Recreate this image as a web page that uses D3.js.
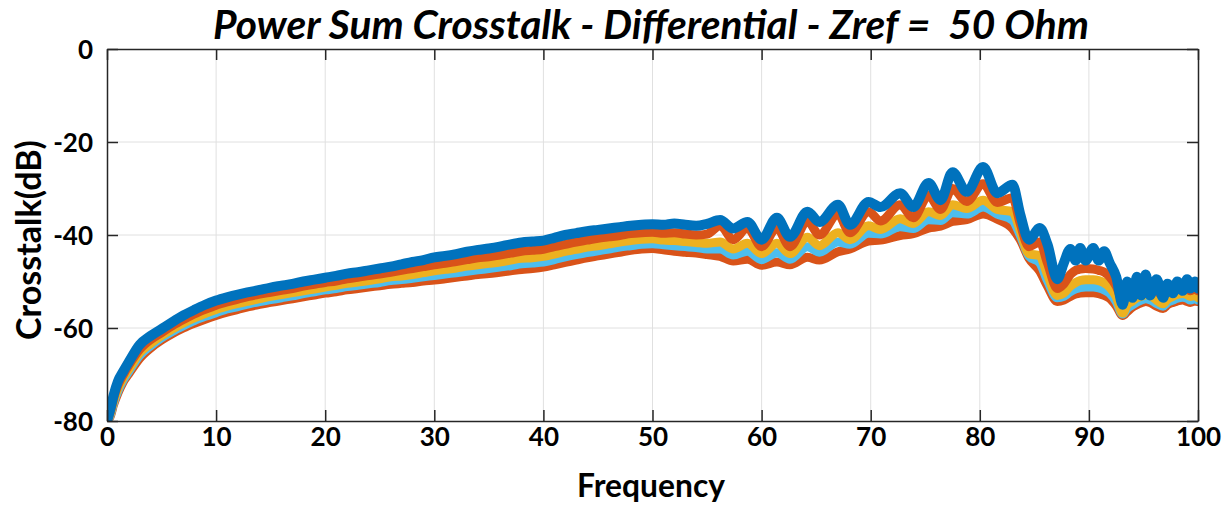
<!DOCTYPE html>
<html><head><meta charset="utf-8">
<script src="https://cdn.jsdelivr.net/npm/d3@7"></script>
<style>
html,body{margin:0;padding:0;background:#fff;}
svg{display:block;}
text{font-family:Lato,"Open Sans",sans-serif;font-weight:bold;fill:#000;}
</style></head>
<body>
<svg id="chart" width="1227" height="507"></svg>
<script>
// ---- data ----
const title = "Power Sum Crosstalk - Differential - Zref = \u00A050 Ohm";
const xLabel = "Frequency";
const yLabel = "Crosstalk(dB)";
const xTicks = [0,10,20,30,40,50,60,70,80,90,100];
const yTicks = [-80,-60,-40,-20,0];

const freq = [0,0.3,0.6,1,1.5,2,3,4,5,6,7,8,9,10,11,12,13,14,15,16,17,18,19,20,21,22,23,24,25,26,27,28,29,30,31,32,33,34,35,36,37,38,39,40,41,42,43,44,45,46,47,48,49,50,51,52,53,54,
 55,56.2,57.4,58.7,60,61.4,62.6,64.2,65.3,67,68.1,69.8,70.9,72.7,73.9,75.3,76.4,77.5,78.8,80.3,81.6,83,83.7,84.5,85.5,86.2,87.1,
 87.7,88.3,88.8,89.2,89.7,90.4,90.9,91.4,91.9,92.5,93.1,93.5,94,94.4,94.8,95.2,95.6,96.2,96.8,97.2,97.7,98.1,98.6,99,99.3,99.7,100];

const seriesBottom = [-80,-79,-76.5,-74,-71.5,-69.8,-66.5,-64.3,-62.6,-61.2,-60.0,-59.0,-58.1,-57.3,-56.6,-56.0,-55.4,-54.9,-54.5,-54.1,-53.7,-53.3,-52.9,-52.5,-52.2,-51.8,-51.5,-51.2,-50.9,-50.6,-50.4,-50.2,-49.9,-49.7,-49.4,-49.1,-48.8,-48.5,-48.3,-48.0,-47.7,-47.4,-47.2,-46.9,-46.4,-45.9,-45.4,-44.9,-44.5,-44.1,-43.7,-43.3,-43.0,-42.9,-43.2,-43.5,-43.7,-43.9,
 -44.2,-44.6,-45.6,-45.2,-46.5,-45.8,-46.4,-44.8,-45.4,-43.6,-43.0,-41.3,-41.1,-40.1,-39.7,-38.5,-38.1,-37.1,-36.7,-35.5,-36.6,-38.6,-41.0,-45.0,-47.8,-51.0,-54.3,
 -54.0,-53.2,-52.7,-52.5,-52.4,-52.4,-52.6,-53.0,-53.6,-55.2,-57.3,-56.5,-55.5,-55.0,-54.6,-54.3,-54.5,-55.3,-55.8,-55.0,-54.5,-54.2,-54.0,-54.3,-54.5,-54.2,-54.3];

const seriesLightBlue = [-80,-78.7,-76.1,-73.5,-71.1,-69.3,-65.9,-63.8,-62.1,-60.7,-59.5,-58.4,-57.5,-56.7,-55.9,-55.4,-54.8,-54.3,-53.9,-53.5,-53.1,-52.6,-52.2,-51.8,-51.5,-51.1,-50.8,-50.5,-50.2,-49.8,-49.6,-49.3,-49.0,-48.7,-48.4,-48.1,-47.8,-47.5,-47.2,-46.9,-46.6,-46.2,-46.0,-45.8,-45.3,-44.7,-44.2,-43.8,-43.4,-43.0,-42.6,-42.3,-42.0,-41.9,-42.1,-42.3,-42.5,-42.7,
 -43.0,-43.0,-44.3,-43.5,-45.3,-43.8,-45.2,-42.5,-43.7,-41.5,-42.0,-39.6,-39.8,-38.2,-38.6,-36.7,-36.9,-35.2,-35.5,-34.0,-35.5,-36.8,-40.0,-44.5,-46.0,-49.8,-53.5,
 -53.2,-52.2,-51.6,-51.3,-51.2,-51.2,-51.4,-51.8,-52.5,-54.3,-57.0,-55.8,-55.0,-54.4,-54.0,-53.7,-53.9,-54.7,-55.3,-54.5,-54.0,-53.6,-53.4,-53.6,-54.0,-53.7,-54.0];

const seriesYellow = [-80,-78.4,-75.7,-73.0,-70.6,-68.8,-65.3,-63.3,-61.6,-60.2,-58.9,-57.8,-56.9,-56.0,-55.3,-54.7,-54.2,-53.7,-53.2,-52.8,-52.4,-52.0,-51.6,-51.2,-50.8,-50.4,-50.1,-49.8,-49.4,-49.0,-48.8,-48.5,-48.1,-47.7,-47.4,-47.1,-46.7,-46.4,-46.1,-45.8,-45.4,-45.0,-44.9,-44.6,-44.1,-43.5,-43.1,-42.6,-42.3,-41.9,-41.5,-41.2,-40.9,-40.8,-41.1,-41.2,-41.4,-41.6,
 -41.8,-41.5,-43.0,-41.8,-44.0,-41.8,-44.0,-40.5,-42.3,-39.5,-41.0,-38.0,-38.8,-36.5,-37.5,-35.0,-35.8,-33.5,-34.3,-32.5,-34.5,-35.0,-39.0,-44.0,-44.5,-48.5,-53.0,
 -52.5,-51.0,-50.2,-49.8,-49.6,-49.6,-49.8,-50.3,-51.2,-53.2,-56.8,-55.0,-54.2,-53.5,-53.2,-52.8,-53.0,-54.0,-54.8,-53.8,-53.2,-52.8,-52.6,-52.8,-53.2,-53.0,-53.5];

const seriesOrange = [-80,-78.0,-75.1,-72.3,-70.0,-68.0,-64.6,-62.5,-61.0,-59.5,-58.2,-57.0,-56.0,-55.1,-54.4,-53.8,-53.2,-52.7,-52.3,-51.9,-51.5,-51.0,-50.6,-50.2,-49.9,-49.4,-49.1,-48.7,-48.4,-48.0,-47.6,-47.2,-46.8,-46.4,-46.1,-45.7,-45.3,-44.9,-44.7,-44.3,-43.9,-43.5,-43.3,-43.1,-42.5,-42.0,-41.5,-41.1,-40.7,-40.4,-40.1,-39.7,-39.5,-39.4,-39.6,-39.5,-39.8,-40.0,
 -39.8,-38.0,-41.0,-38.5,-42.5,-38.5,-42.5,-37.0,-40.0,-35.5,-39.5,-35.0,-37.0,-33.5,-36.3,-31.5,-34.5,-30.0,-32.8,-29.0,-33.0,-32.0,-37.5,-42.5,-41.5,-46.0,-51.5,
 -50.5,-48.5,-47.6,-47.3,-47.2,-47.3,-47.6,-48.0,-49.0,-51.0,-54.0,-53.0,-52.5,-51.5,-51.8,-51.0,-51.5,-52.0,-53.0,-52.0,-51.5,-51.0,-51.5,-51.0,-52.0,-51.5,-52.0];

const seriesBlue = [-80,-77.5,-74.5,-71.5,-69.3,-67.3,-63.6,-61.7,-60.2,-58.7,-57.3,-56.1,-55.0,-54.1,-53.4,-52.8,-52.3,-51.8,-51.3,-50.9,-50.5,-50.0,-49.6,-49.2,-48.8,-48.3,-48.0,-47.6,-47.2,-46.8,-46.3,-45.8,-45.4,-44.8,-44.5,-44.1,-43.6,-43.2,-42.9,-42.5,-42.0,-41.6,-41.4,-41.2,-40.6,-40.0,-39.6,-39.2,-38.9,-38.6,-38.3,-38.0,-37.8,-37.7,-37.8,-37.5,-37.8,-38.0,
 -37.6,-36.8,-38.6,-37.2,-41.0,-36.3,-40.4,-35.0,-37.2,-33.5,-37.8,-32.9,-34.0,-31.0,-34.0,-28.8,-32.5,-26.5,-30.7,-25.4,-31.0,-29.2,-35.5,-41.0,-38.5,-42.0,-49.5,
 -46.0,-43.0,-45.5,-42.8,-45.5,-42.8,-45.5,-43.5,-46.0,-49.0,-55.0,-50.0,-53.5,-49.0,-53.0,-48.5,-53.0,-49.5,-53.5,-50.5,-52.5,-50.0,-52.0,-49.5,-51.5,-50.0,-51.5];

const seriesColors = ["#D95319","#4DBEEE","#EDB120","#D95319","#0072BD"];
const seriesWidths = [9, 9, 9, 9, 10];
const seriesValues = [seriesBottom, seriesLightBlue, seriesYellow, seriesOrange, seriesBlue];

// ---- layout ----
const svg = d3.select("#chart");
const L = 107, R = 1198, T = 49, B = 421;
const x = d3.scaleLinear().domain([0,100]).range([L,R]);
const y = d3.scaleLinear().domain([-80,0]).range([B,T]);

// grid
const grid = svg.append("g");
grid.selectAll(".gx").data(xTicks.slice(1,-1)).enter().append("line")
  .attr("x1",d=>x(d)).attr("x2",d=>x(d)).attr("y1",T).attr("y2",B)
  .attr("stroke","#e0e0e0").attr("stroke-width",1);
grid.selectAll(".gy").data(yTicks.slice(1,-1)).enter().append("line")
  .attr("y1",d=>y(d)).attr("y2",d=>y(d)).attr("x1",L).attr("x2",R)
  .attr("stroke","#e0e0e0").attr("stroke-width",1);

// clip
svg.append("clipPath").attr("id","clip").append("rect")
  .attr("x",L).attr("y",T).attr("width",R-L).attr("height",B-T);

const line = d3.line().x((d,i)=>x(freq[i])).y(d=>y(d)).curve(d3.curveMonotoneX);
const lines = svg.append("g").attr("clip-path","url(#clip)");
seriesValues.forEach((vals,k)=>{
  lines.append("path").datum(vals)
    .attr("d",line).attr("fill","none")
    .attr("stroke",seriesColors[k])
    .attr("stroke-width", seriesWidths[k])
    .attr("stroke-linejoin","round").attr("stroke-linecap","round");
});

// axes with inward ticks on all sides
const axCol = "#262626";
const tickLen = 11;
const fmt = d => String(d);
const axB = d3.axisBottom(x).tickValues(xTicks).tickSizeInner(-tickLen).tickSizeOuter(0).tickFormat(fmt).tickPadding(20);
const axT = d3.axisTop(x).tickValues(xTicks).tickSizeInner(-tickLen).tickSizeOuter(0).tickFormat("");
const axLf = d3.axisLeft(y).tickValues(yTicks).tickSizeInner(-tickLen).tickSizeOuter(0).tickFormat(fmt).tickPadding(14);
const axRt = d3.axisRight(y).tickValues(yTicks).tickSizeInner(-tickLen).tickSizeOuter(0).tickFormat("");

function styleAxis(g){
  g.select(".domain").attr("stroke",axCol).attr("stroke-width",1.5);
  g.selectAll(".tick line").attr("stroke",axCol).attr("stroke-width",1.5);
  g.selectAll(".tick text").attr("font-family","Lato").attr("font-weight","bold").attr("font-size",26).attr("fill","#000");
}
svg.append("g").attr("transform",`translate(0,${B})`).call(axB).call(styleAxis)
  .selectAll(".tick text").attr("dy","0.2em");
svg.append("g").attr("transform",`translate(0,${T})`).call(axT).call(styleAxis);
svg.append("g").attr("transform",`translate(${L},0)`).call(axLf).call(styleAxis)
  .selectAll(".tick text").attr("dy","0.36em");
svg.append("g").attr("transform",`translate(${R},0)`).call(axRt).call(styleAxis);

// title
const tt = svg.append("text").attr("x",(205+1097)/2).attr("y",39)
  .attr("text-anchor","middle").attr("font-style","italic").attr("font-size",32)
  .text(title);
let w = tt.node().getComputedTextLength();
tt.attr("font-size", 32*876/w);

// axis labels
const xl = svg.append("text").attr("x",651).attr("y",497).attr("text-anchor","middle")
  .attr("font-size",29).text(xLabel);
w = xl.node().getComputedTextLength(); xl.attr("font-size",29*148/w);
const yl = svg.append("text").attr("transform","translate(41,240) rotate(-90)")
  .attr("text-anchor","middle").attr("font-size",29).text(yLabel);
w = yl.node().getComputedTextLength(); yl.attr("font-size",29*200/w);
</script>
</body></html>
